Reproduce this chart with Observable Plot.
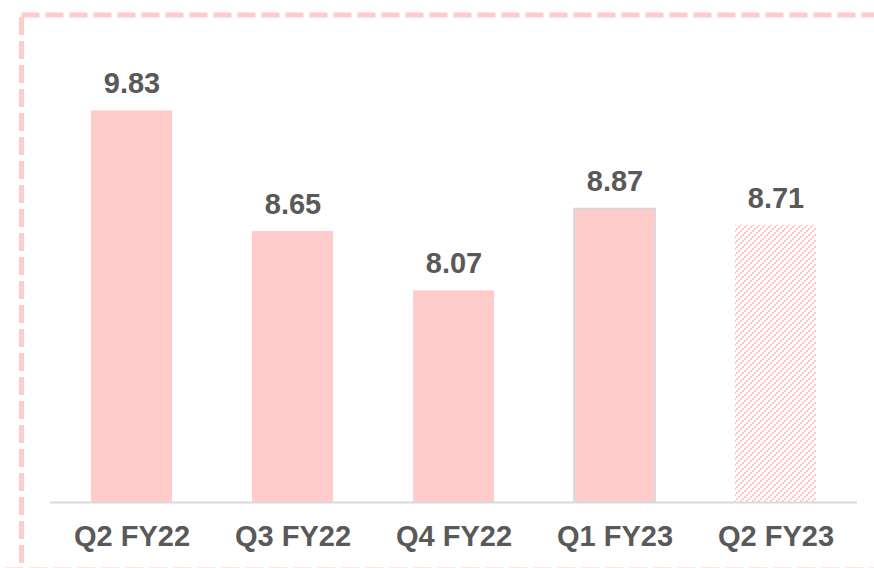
<!DOCTYPE html>
<html>
<head>
<meta charset="utf-8">
<script src="https://cdn.jsdelivr.net/npm/d3@7"></script>
<script src="https://cdn.jsdelivr.net/npm/@observablehq/plot@0.6"></script>
<style>
  html, body { margin: 0; padding: 0; background: #fff; }
  #chart { width: 874px; height: 568px; overflow: hidden; }
</style>
</head>
<body>
<div id="chart"></div>
<script>
const categories = ["Q2 FY22", "Q3 FY22", "Q4 FY22", "Q1 FY23", "Q2 FY23"];
const values = [9.83, 8.65, 8.07, 8.87, 8.71];
const valueLabels = ["9.83", "8.65", "8.07", "8.87", "8.71"];
const yDomain = [6, 10];

const data = categories.map((c, i) => ({category: c, value: values[i], label: valueLabels[i]}));
const solid = data.filter(d => d.category !== "Q2 FY23");
const outlined = data.filter(d => d.category === "Q1 FY23");
const hatched = data.filter(d => d.category === "Q2 FY23");

const pink = "#FFCCCC";
const textColor = "#595959";

const chart = Plot.plot({
  width: 874,
  height: 568,
  marginTop: 93,
  marginBottom: 66,
  marginLeft: 50,
  marginRight: 17,
  style: {
    fontFamily: "'Liberation Sans', Arial, sans-serif",
    fontWeight: "bold",
    color: textColor,
    background: "#fff",
    overflow: "hidden"
  },
  x: {domain: categories, paddingInner: 0.5, paddingOuter: 0.25, label: null},
  y: {domain: yDomain, axis: null},
  marks: [
    Plot.barY(solid, {x: "category", y1: d => yDomain[0], y2: "value", fill: pink}),
    Plot.barY(outlined, {x: "category", y1: d => yDomain[0], y2: "value", fill: pink, stroke: "#d6d6d6", strokeWidth: 1.6}),
    Plot.barY(hatched, {x: "category", y1: d => yDomain[0], y2: "value", fill: "url(#hatch)"}),
    Plot.ruleY([yDomain[0]], {stroke: "#d9d9d9", strokeWidth: 1.8}),
    Plot.text(data, {x: "category", y: "value", text: "label", dy: -27, fontSize: 29, fontWeight: "bold", fill: textColor}),
    Plot.axisX({tickSize: 0, tickPadding: 23, fontSize: 29, fontWeight: "bold", fill: textColor, label: null})
  ]
});

// hatch pattern: dotted upward diagonals
const svg = d3.select(chart);
const defs = svg.insert("defs", ":first-child");
const pat = defs.append("pattern")
  .attr("id", "hatch")
  .attr("patternUnits", "userSpaceOnUse")
  .attr("x", 0).attr("y", 0)
  .attr("width", 6)
  .attr("height", 6);
pat.append("rect").attr("width", 6).attr("height", 6).attr("fill", "#fff");
[[4, 0], [2, 2], [0, 4]].forEach(([x, y]) => {
  pat.append("rect").attr("x", x).attr("y", y).attr("width", 2).attr("height", 2)
    .attr("fill", "#ffc6c6").attr("shape-rendering", "crispEdges");
});

// dashed frame
const frame = svg.append("g")
  .attr("stroke", pink)
  .attr("stroke-width", 5)
  .attr("stroke-dasharray", "18,6")
  .attr("fill", "none");
frame.append("line").attr("x1", 21.5).attr("y1", 15).attr("x2", 900).attr("y2", 15);
frame.append("line").attr("x1", 21.5).attr("y1", 17).attr("x2", 21.5).attr("y2", 600);
frame.append("line").attr("x1", 5).attr("y1", 570).attr("x2", 900).attr("y2", 570);

document.getElementById("chart").appendChild(chart);
</script>
</body>
</html>
